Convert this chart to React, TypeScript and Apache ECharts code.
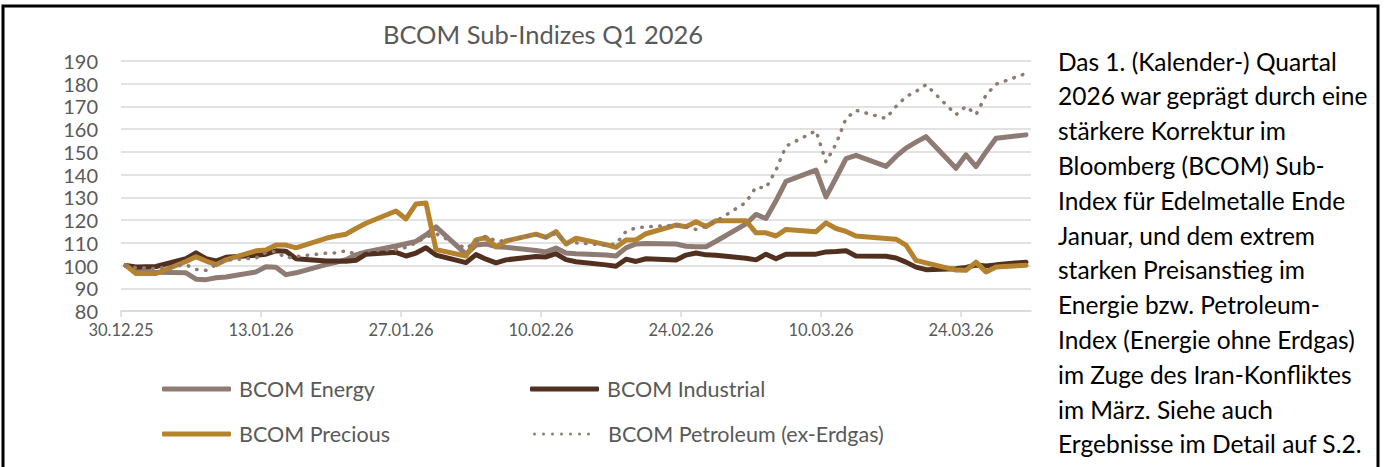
import React, { useEffect, useRef } from "react";
import * as echarts from "echarts";

const DATES = [
  "30.12.25", "31.12.25",
  "02.01.26", "05.01.26", "06.01.26", "07.01.26", "08.01.26", "09.01.26",
  "12.01.26", "13.01.26", "14.01.26", "15.01.26", "16.01.26",
  "19.01.26", "20.01.26", "21.01.26", "22.01.26", "23.01.26",
  "26.01.26", "27.01.26", "28.01.26", "29.01.26", "30.01.26",
  "02.02.26", "03.02.26", "04.02.26", "05.02.26", "06.02.26",
  "09.02.26", "10.02.26", "11.02.26", "12.02.26", "13.02.26",
  "16.02.26", "17.02.26", "18.02.26", "19.02.26", "20.02.26",
  "23.02.26", "24.02.26", "25.02.26", "26.02.26", "27.02.26",
  "02.03.26", "03.03.26", "04.03.26", "05.03.26", "06.03.26",
  "09.03.26", "10.03.26", "11.03.26", "12.03.26", "13.03.26",
  "16.03.26", "17.03.26", "18.03.26", "19.03.26", "20.03.26",
  "23.03.26", "24.03.26", "25.03.26", "26.03.26", "27.03.26",
  "30.03.26",
];

const ENERGY = [
  100, 98, 97, 96.8, 94, 93.8, 94.6, 95,
  97.2, 99.5, 99.3, 96, 96.8,
  100.4, 101.4, 102.6, 104.7, 106,
  108.6, 109.6, 110.6, 113.5, 117,
  105, 109, 109.5, 108.3, 108,
  106.6, 106, 107.7, 105.5, 105.2,
  104.6, 104.2, 107.8, 109.5, 109.7,
  109.5, 108.5, 108.3, 108.3, 110.7,
  118.3, 122.5, 120.7, 128.5, 137,
  142, 130.2, 138.5, 147, 148.5,
  143.6, 148, 151.7, 154.3, 156.7,
  142.8, 148.7, 143.5, 150, 156,
  157.5,
];

const INDUSTRIAL = [
  100, 99.4, 99.6, 103, 105.6, 103, 102, 103.6,
  104.5, 105, 106.5, 106.3, 103,
  102, 102, 101.9, 102.3, 105,
  105.8, 104.2, 105.5, 107.8, 104.6,
  101.3, 104.8, 102.8, 101.2, 102.5,
  104, 103.8, 105.2, 102.6, 101.7,
  100.3, 99.7, 102.8, 101.8, 103,
  102.4, 104.6, 105.5, 104.7, 104.5,
  103.2, 102.5, 105, 103, 105,
  105, 106, 106.2, 106.5, 104.2,
  104.1, 103.3, 101.5, 99.3, 98.2,
  98.6, 99.2, 100.2, 99.8, 100.3,
  101.5,
];

const PRECIOUS = [
  100, 96.5, 96.5, 101.8, 103.9, 102, 100.4, 102.5,
  106.5, 106.8, 109, 109, 107.8,
  112, 113, 113.8, 116.3, 118.6,
  124, 120.5, 127.1, 127.5, 107,
  104.2, 111.3, 112.3, 108.2, 110.8,
  113.8, 112.4, 114.9, 109.5, 112,
  109.2, 108, 111.2, 111.3, 114,
  117.8, 117.1, 119.3, 117.2, 119.7,
  119.7, 114.4, 114.4, 113, 115.9,
  114.9, 118.8, 116.3, 115, 113,
  111.9, 111.6, 109, 102.3, 101.2,
  98, 97.9, 101.5, 97.2, 99.4,
  100.1,
];

const PETROLEUM = [
  100, 99, 98.7, 100.3, 98.3, 97.9, 100.3, 102.4,
  103.3, 105.8, 106.2, 103.3, 104,
  105.4, 105.6, 106.5, 105, 106.5,
  107, 108, 110, 112.5, 114,
  107.5, 110.6, 113, 110.7, 111,
  113.5, 112.4, 114.2, 110, 110,
  109, 109.5, 115, 116.6, 117,
  117.8, 117, 115.9, 117.2, 119.5,
  127.8, 134.5, 134.2, 142, 152.5,
  159.3, 145.6, 153.5, 164.7, 168.3,
  164.7, 170, 174.3, 176.6, 179.6,
  166.4, 170.1, 166.4, 175, 179.8,
  184.5,
];

const SERIES_NAMES = [
  "BCOM Energy",
  "BCOM Industrial",
  "BCOM Precious",
  "BCOM Petroleum (ex-Erdgas)",
];

const TITLE = "BCOM Sub-Indizes Q1 2026";

const PARAGRAPH = [
  "Das 1. (Kalender-) Quartal",
  "2026 war geprägt durch eine",
  "stärkere Korrektur im",
  "Bloomberg (BCOM) Sub-",
  "Index für Edelmetalle Ende",
  "Januar, und dem extrem",
  "starken Preisanstieg im",
  "Energie bzw. Petroleum-",
  "Index (Energie ohne Erdgas)",
  "im Zuge des Iran-Konfliktes",
  "im März. Siehe auch",
  "Ergebnisse im Detail auf S.2.",
];

// axis: days from 30.12.25, 14-day major unit, 91 day slots
const X_START = "30.12.25";
const X_DAYS = 91;
const X_STEP = 14;
const Y_MIN = 80;
const Y_MAX = 190;
const Y_STEP = 10;

const FONT = "Lato, 'Open Sans', sans-serif";
const DAY = 86400000;

function parseDate(s: string): number {
  const [d, m, y] = s.split(".").map(Number);
  return Date.UTC(2000 + y, m - 1, d);
}
const BASE = parseDate(X_START);
function fmt(v: number): string {
  const dt = new Date(BASE + Math.round(v) * DAY);
  const dd = String(dt.getUTCDate()).padStart(2, "0");
  const mm = String(dt.getUTCMonth() + 1).padStart(2, "0");
  const yy = String(dt.getUTCFullYear() % 100).padStart(2, "0");
  return `${dd}.${mm}.${yy}`;
}

// dotted legend icon: 7 round dots
function dotsPath(n: number, gap: number, r: number): string {
  let d = "";
  for (let i = 0; i < n; i++) {
    const cx = r + i * gap;
    d += `M${cx - r},${r} a${r},${r} 0 1,0 ${2 * r},0 a${r},${r} 0 1,0 ${-2 * r},0 Z `;
  }
  return "path://" + d.trim();
}

export default function App() {
  const ref = useRef<HTMLDivElement>(null);

  useEffect(() => {
    if (!ref.current) return;
    const chart = echarts.init(ref.current, null, { renderer: "svg" });

    // Excel date axis "between tick marks": each day's point sits mid-slot
    const xs = DATES.map((d) => (parseDate(d) - BASE) / DAY + 0.5);
    const pts = (arr: number[]) => arr.map((v, i) => [xs[i], v]);
    const ticks: number[] = [];
    for (let v = 0; v < X_DAYS; v += X_STEP) ticks.push(v);

    const legendCommon = {
      padding: 0,
      itemWidth: 69,
      itemHeight: 5,
      itemGap: 0,
      selectedMode: false,
      textStyle: {
        fontSize: 21.5,
        color: "#595959",
        fontFamily: FONT,
        padding: [0, 0, 0, 3],
      },
    };

    const colors = ["#8E7B73", "#52301F", "#B5822E", "#8E7B73"];
    const datas = [ENERGY, INDUSTRIAL, PRECIOUS, PETROLEUM];

    chart.setOption({
      animation: false,
      backgroundColor: "#ffffff",
      title: {
        text: TITLE,
        left: 543,
        top: 19,
        textAlign: "center",
        padding: 0,
        textStyle: {
          fontSize: 25.5,
          fontWeight: "normal",
          color: "#595959",
          fontFamily: FONT,
          lineHeight: 30,
        },
      },
      grid: { left: 121, top: 61, width: 910, height: 250, containLabel: false },
      xAxis: {
        type: "value",
        min: 0,
        max: X_DAYS,
        interval: X_STEP,
        axisLine: { show: true, onZero: false, lineStyle: { color: "#d9d9d9", width: 1.5 } },
        axisTick: {
          show: true,
          length: 6,
          customValues: ticks,
          lineStyle: { color: "#d9d9d9", width: 1.5 },
        },
        axisLabel: {
          customValues: ticks,
          formatter: (v: number) => fmt(v),
          fontSize: 16.5,
          color: "#595959",
          fontFamily: FONT,
          margin: 10,
        },
        splitLine: { show: false },
      },
      yAxis: {
        type: "value",
        min: Y_MIN,
        max: Y_MAX,
        interval: Y_STEP,
        axisLine: { show: false },
        axisTick: { show: false },
        axisLabel: { fontSize: 20, color: "#595959", fontFamily: FONT, margin: 23 },
        splitLine: { lineStyle: { color: "#d9d9d9", width: 1.5 } },
      },
      legend: [
        { ...legendCommon, data: [{ name: SERIES_NAMES[0], icon: "roundRect" }], left: 162, top: 378 },
        { ...legendCommon, data: [{ name: SERIES_NAMES[1], icon: "roundRect" }], left: 530, top: 378 },
        { ...legendCommon, data: [{ name: SERIES_NAMES[2], icon: "roundRect" }], left: 162, top: 423 },
        {
          ...legendCommon,
          itemWidth: 57,
          itemHeight: 3.5,
          data: [{ name: SERIES_NAMES[3], icon: dotsPath(7, 9, 1.5) }],
          left: 533,
          top: 423,
          textStyle: { ...legendCommon.textStyle, padding: [0, 0, 0, 13] },
        },
      ],
      series: SERIES_NAMES.map((name, i) => ({
        name,
        type: "line",
        data: pts(datas[i]),
        showSymbol: false,
        symbol: "none",
        color: colors[i],
        itemStyle: { color: colors[i] },
        lineStyle:
          i === 3
            ? { color: colors[i], width: 3.5, type: [0.5, 8.5], cap: "round", join: "round" }
            : { color: colors[i], width: 5, cap: "round", join: "round" },
        z: 2 + i,
      })),
      graphic: [
        {
          type: "rect",
          shape: { x: 3, y: 6, width: 1375, height: 480 },
          style: { fill: "none", stroke: "#000000", lineWidth: 3 },
          silent: true,
        },
        ...PARAGRAPH.map((t, i) => ({
          type: "text",
          x: 1058,
          y: 61 + i * 34.8,
          style: {
            text: t,
            fontSize: 24.5,
            fontFamily: FONT,
            fill: "#000000",
            align: "left",
            verticalAlign: "middle",
          },
          silent: true,
        })),
      ],
    });

    return () => chart.dispose();
  }, []);

  return (
    <div
      ref={ref}
      style={{ position: "absolute", left: 0, top: 0, width: 1386, height: 467 }}
    />
  );
}
